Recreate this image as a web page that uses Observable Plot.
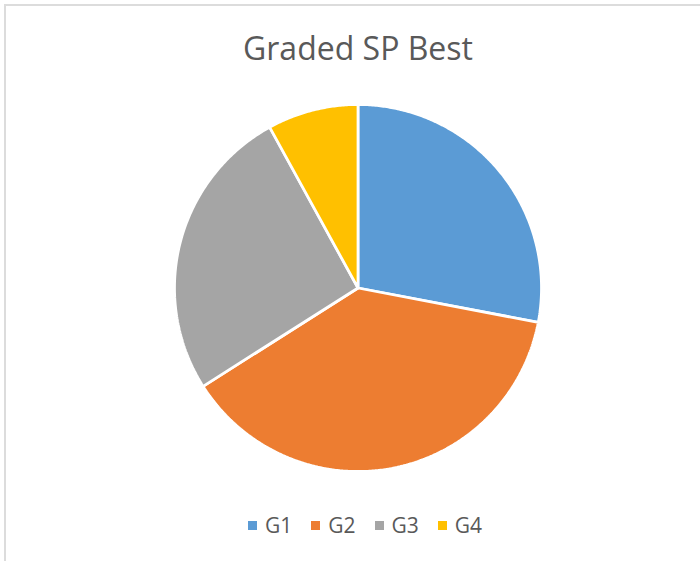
<!DOCTYPE html>
<html><head><meta charset="utf-8">
<script src="https://cdn.jsdelivr.net/npm/d3@7"></script>
<script src="https://cdn.jsdelivr.net/npm/@observablehq/plot@0.6"></script>
<style>
body{margin:0;background:#fff;font-family:"Open Sans",sans-serif;}
#wrap{position:relative;width:700px;height:561px;overflow:hidden;background:#fff}
#frame{position:absolute;left:4px;top:4px;width:800px;height:700px;border-top:2px solid #dcdcdc;border-left:2px solid #dcdcdc}
#chart{position:absolute;left:0;top:0}
#legend{position:absolute;left:248px;top:513px;height:24px;display:flex;align-items:center;font-family:"Open Sans",sans-serif;font-size:21px;color:#595959;line-height:24px;white-space:nowrap}
#legend .item{display:flex;align-items:center;margin-right:19px}
#legend .sw{width:9px;height:9px;margin-right:8px}
</style></head><body>
<div id="wrap"><div id="frame"></div><div id="chart"></div><div id="legend"></div></div>
<script>
const title = "Graded SP Best";
const categories = ["G1", "G2", "G3", "G4"];
const values = [28, 38, 26, 8];
const colors = ["#5B9BD5", "#ED7D31", "#A5A5A5", "#FFC000"];

// layout (pixels)
const W = 700, H = 561, cx = 357.5, cy = 287.5, R = 183.5;

const arcs = d3.pie().sort(null).value(d => d)(values);
const rows = [];
arcs.forEach((a, i) => {
  const key = categories[i];
  rows.push({key, x: 0, y: 0});
  const n = Math.max(2, Math.ceil((a.endAngle - a.startAngle) / (Math.PI / 360)));
  for (let k = 0; k <= n; k++) {
    const t = a.startAngle + (a.endAngle - a.startAngle) * k / n;
    rows.push({key, x: Math.sin(t), y: Math.cos(t)});
  }
  rows.push({key, x: 0, y: 0});
});

const chart = Plot.plot({
  width: W, height: H, margin: 0,
  style: {fontFamily: "Open Sans", background: "transparent"},
  x: {domain: [-cx / R, (W - cx) / R], axis: null},
  y: {domain: [-(H - cy) / R, cy / R], axis: null},
  color: {domain: categories, range: colors},
  marks: [
    Plot.line(rows, {x: "x", y: "y", z: "key", fill: "key", stroke: "white", strokeWidth: 2.75, curve: "linear", strokeLinejoin: "miter"}),
    Plot.text([title], {x: () => 0, frameAnchor: "top", dy: 59, lineAnchor: "bottom", text: d => d, fontSize: 32, fill: "#595959"})
  ]
});
document.getElementById("chart").appendChild(chart);

const legend = document.getElementById("legend");
categories.forEach((c, i) => {
  const item = document.createElement("div");
  item.className = "item";
  const sw = document.createElement("div");
  sw.className = "sw";
  sw.style.background = colors[i];
  const lab = document.createElement("span");
  lab.textContent = c;
  item.appendChild(sw); item.appendChild(lab);
  legend.appendChild(item);
});
</script>
</body></html>
